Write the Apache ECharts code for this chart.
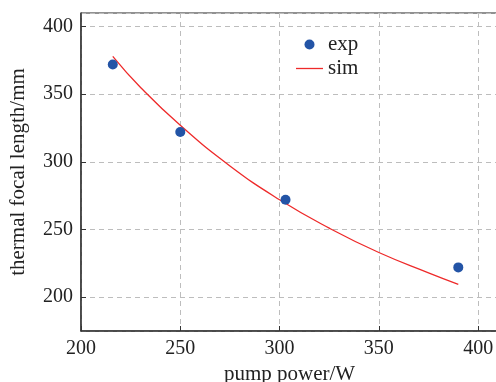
<!DOCTYPE html>
<html>
<head>
<meta charset="utf-8">
<script src="https://cdn.jsdelivr.net/npm/echarts@6/dist/echarts.min.js"></script>
<style>
  html, body { margin: 0; padding: 0; background: #fff; }
  #chart { width: 496px; height: 382px; }
</style>
</head>
<body>
<div id="chart"></div>
<script>
// measured points (pump power in W, focal length in mm)
const expPower = [216, 250, 303, 390];
const expFocal = [372, 322, 272, 222];

// simulated curve
const simPower = [216, 230, 250, 275, 300, 325, 350, 375, 390];
const simFocal = [378, 355, 327, 297, 272, 251, 233, 218, 209.5];

const serif = '"Liberation Serif", "Times New Roman", serif';
const gridDash = { color: '#bdbdbd', type: [5, 4], width: 1 };

const chart = echarts.init(document.getElementById('chart'));

chart.setOption({
  animation: false,
  grid: {
    left: 81,
    top: 13,
    right: -2,
    bottom: 51,
    outerBoundsMode: 'none',
    show: true,
    borderColor: '#222',
    borderWidth: 1
  },
  legend: {
    orient: 'vertical',
    left: 291,
    top: 29,
    itemWidth: 27,
    itemHeight: 10,
    itemGap: 3,
    textStyle: { fontFamily: serif, fontSize: 21, color: '#222', lineHeight: 18 },
    data: [
      { name: 'exp', icon: 'circle' },
      { name: 'sim', icon: 'path://M0,0 L27,0 L27,1.3 L0,1.3 Z' }
    ]
  },
  xAxis: {
    type: 'value',
    min: 200,
    max: 410,
    interval: 50,
    name: 'pump power/W',
    nameLocation: 'middle',
    nameGap: 31,
    nameTextStyle: { fontFamily: serif, fontSize: 21, color: '#222' },
    axisLine: { lineStyle: { color: '#333', width: 1.5 } },
    axisTick: { inside: true, length: 5, lineStyle: { color: '#333' } },
    axisLabel: { fontFamily: serif, fontSize: 20, color: '#222', margin: 8, showMaxLabel: false },
    splitLine: { show: true, lineStyle: gridDash }
  },
  yAxis: {
    type: 'value',
    min: 175,
    max: 410,
    splitNumber: 5,
    name: 'thermal focal length/mm',
    nameLocation: 'middle',
    nameGap: 52,
    nameTextStyle: { fontFamily: serif, fontSize: 21, color: '#222' },
    axisLine: { lineStyle: { color: '#333', width: 1.5 } },
    axisTick: { inside: true, length: 5, lineStyle: { color: '#333' } },
    axisLabel: {
      fontFamily: serif, fontSize: 20, color: '#222', margin: 8,
      showMinLabel: false, showMaxLabel: false
    },
    splitLine: { show: true, lineStyle: gridDash }
  },
  series: [
    {
      name: 'exp',
      type: 'scatter',
      symbol: 'circle',
      symbolSize: 10,
      itemStyle: { color: '#2354a6', opacity: 1 },
      data: expPower.map((p, i) => [p, expFocal[i]]),
      z: 3
    },
    {
      name: 'sim',
      type: 'line',
      smooth: true,
      symbol: 'none',
      lineStyle: { color: '#ee2a2a', width: 1.3 },
      itemStyle: { color: '#ee2a2a' },
      data: simPower.map((p, i) => [p, simFocal[i]]),
      z: 2
    }
  ]
});
</script>
</body>
</html>
